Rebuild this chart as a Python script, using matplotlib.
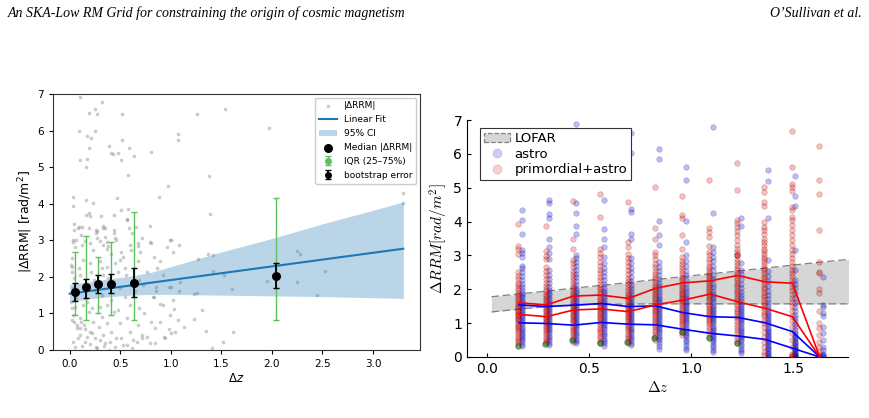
import matplotlib
matplotlib.use("Agg")
import matplotlib.pyplot as plt
from matplotlib.patches import Patch
from matplotlib.lines import Line2D
import numpy as np

# ---------------- Left panel data ----------------
scat_x = [0.10,0.19,0.25,0.27,0.32,0.09,0.25,0.17,0.21,0.19,0.17,0.10,0.16,0.39,0.41,0.43,0.48,0.52,0.52,0.51,
          0.59,0.64,0.58,0.80,0.97,1.07,1.07,1.26,1.54,1.97,1.38,1.39,3.30,3.30,
          0.03,0.03,0.04,0.16,0.23,0.16,0.19,0.20,0.09,0.12,0.11,0.06,0.03,0.15,0.31,0.33,0.35,0.27,0.26,0.30,
          0.37,0.38,0.47,0.44,0.51,0.58,0.57,0.57,0.62,0.68,0.68,0.45,0.44,0.88,0.79,0.80,1.00,1.08,1.37,1.42,
          1.42,1.27,1.53,1.09,1.00,0.85,0.85,1.61,1.95,2.25,2.28,2.25,2.53,2.45,1.26,1.23,
          1.03,1.31,1.23,1.13,0.93,0.98,1.00,0.84,1.35,1.62,1.52,1.41,0.89,0.80,0.76,0.72,0.82,
          0.04,0.08,0.19,0.26,0.33,0.44,0.59,0.66,0.27,0.35,0.46,0.72,0.79,0.99,
          0.03,0.02,0.05,0.12,0.20,0.23,0.33,0.37,0.41,0.51,0.53,0.60,0.61,0.70,0.83,0.89,0.96,1.02,
          0.01,0.02,0.04,0.09,0.10,0.13,0.20,0.21,0.24,0.30,0.32,0.33,0.37,0.38,0.45,0.48,0.50,0.55,0.56,
          0.68,0.69,0.73,0.76,0.86,0.92,0.98,1.08,0.03,0.06,0.14,0.17,0.25,0.32,0.41,0.50,0.55,0.65,0.83,0.92,1.02,
          0.02,0.03,0.04,0.07,0.10,0.10,0.14,0.15,0.19,0.20,0.23,0.25,0.26,0.29,0.32,0.33,0.35,0.37,0.39,0.41,
          0.44,0.46,0.50,0.53,0.57,0.60,0.63,0.68,0.72,0.74,0.79,0.84,0.89,0.94,0.99,1.04,1.07,
          0.01,0.05,0.13,0.22,0.30,0.37,0.48,0.60,0.69,
          0.03,0.05,0.08,0.12,0.17,0.20,0.22,0.27,0.30,0.34,0.40,0.45,0.51,0.57,0.62,0.67,
          0.02,0.07,0.11,0.10,0.15,0.02]
scat_y = [6.91,6.47,6.60,6.46,6.77,6.00,6.00,5.85,5.80,5.52,5.23,5.19,5.00,5.58,5.38,5.37,5.40,6.45,5.74,5.19,
          5.52,5.31,4.79,5.42,4.48,5.90,5.74,6.44,6.58,6.08,4.77,3.73,4.28,4.03,
          4.17,3.93,3.45,4.10,4.01,3.68,3.74,3.67,3.36,3.35,3.14,3.00,2.94,2.97,3.67,3.40,3.34,3.25,3.19,2.98,
          2.94,2.85,4.16,3.70,3.82,3.86,3.57,3.56,3.19,2.92,2.85,3.06,3.19,4.17,3.38,2.92,3.02,2.88,2.63,2.61,
          2.16,2.48,2.05,1.86,1.71,1.73,1.60,1.68,1.88,2.71,2.63,1.85,2.16,1.50,1.57,1.54,
          1.13,1.09,0.84,0.63,0.35,0.58,0.46,0.18,0.53,0.50,0.21,0.05,1.25,0.77,0.36,0.32,1.44,
          3.28,3.34,3.33,3.28,3.34,3.28,3.33,3.37,3.05,3.10,3.01,3.05,2.96,3.01,
          3.01,2.51,2.82,2.87,2.92,2.73,2.87,2.76,2.62,2.69,2.55,2.87,2.73,2.69,2.55,2.43,2.82,2.69,
          2.32,2.14,1.96,2.23,2.05,2.46,2.37,2.14,1.91,2.42,2.23,2.05,2.28,1.96,2.37,2.14,2.46,2.23,2.05,
          2.42,1.91,1.78,2.14,2.23,2.05,1.73,1.60,1.69,1.41,1.60,1.32,1.64,1.50,1.37,1.69,1.46,1.60,1.46,1.23,1.37,
          1.14,0.96,0.77,0.59,0.87,0.41,0.68,0.23,1.05,0.50,0.77,0.32,0.09,0.64,0.91,0.41,0.18,0.73,0.00,0.50,
          1.05,0.32,0.73,0.14,0.87,0.50,0.27,0.68,0.41,1.00,0.18,0.59,0.77,0.32,0.96,0.50,0.82,
          1.32,1.18,1.23,1.14,1.18,1.23,1.09,1.23,1.14,
          0.23,0.09,0.32,0.12,0.36,0.16,0.46,0.05,0.27,0.11,0.23,0.09,0.32,0.14,0.05,0.23,
          0.82,0.68,0.77,0.59,0.57,2.26]

bin_z = [0.056, 0.157, 0.282, 0.410, 0.633, 2.040]
bin_median = [1.59, 1.71, 1.80, 1.80, 1.84, 2.03]
boot_lo = [1.34, 1.43, 1.55, 1.55, 1.44, 1.70]
boot_hi = [1.84, 1.93, 2.05, 2.07, 2.23, 2.39]
iqr_lo = [0.95, 0.82, 1.02, 0.95, 0.83, 0.83]
iqr_hi = [2.68, 3.12, 2.53, 2.94, 3.76, 4.15]

fit_x = [0.0, 3.3]
fit_y = [1.54, 2.77]
ci_x = [0.0, 0.2, 0.4, 0.6, 0.8, 1.0, 1.5, 2.0, 2.5, 3.0, 3.3]
ci_hi = [1.80, 1.87, 1.95, 2.02, 2.12, 2.28, 2.68, 3.05, 3.45, 3.82, 4.05]
ci_lo = [1.32, 1.40, 1.46, 1.50, 1.52, 1.52, 1.50, 1.48, 1.46, 1.43, 1.41]

# ---------------- Right panel data ----------------
col_z = [0.155, 0.29, 0.423, 0.558, 0.692, 0.826, 0.96, 1.094, 1.229, 1.363, 1.497, 1.631]

astro_cols = [
    [0.33,0.39,0.46,0.53,0.6,0.66,0.72,0.78,0.84,0.9,0.96,1.02,1.08,1.14,1.2,1.26,1.32,1.38,1.44,1.5,1.56,1.62,1.69,1.76,1.83,1.9,1.98,2.07,2.16,2.26,2.38,2.5,2.62,2.69,2.96,3.06,3.16,3.62,4.06,4.35],
    [0.35,0.42,0.49,0.56,0.63,0.7,0.76,0.82,0.88,0.94,1.0,1.06,1.12,1.18,1.24,1.3,1.36,1.42,1.48,1.54,1.6,1.67,1.74,1.82,1.9,1.98,2.08,2.18,2.3,2.42,2.57,2.88,3.06,3.26,3.49,4.12,4.21,4.56,4.64],
    [0.4,0.47,0.54,0.61,0.68,0.75,0.82,0.88,0.94,1.0,1.06,1.12,1.18,1.24,1.3,1.36,1.42,1.48,1.54,1.6,1.66,1.73,1.8,1.88,1.96,2.05,2.14,2.24,2.35,2.46,2.58,2.7,2.82,2.92,3.01,3.63,3.87,4.24,4.54,6.88],
    [0.33,0.4,0.47,0.54,0.61,0.68,0.75,0.82,0.88,0.94,1.0,1.06,1.12,1.18,1.24,1.3,1.36,1.42,1.48,1.54,1.6,1.66,1.73,1.8,1.88,1.96,2.05,2.15,2.26,2.38,2.5,2.63,2.78,2.96,3.26,3.5,3.79,4.64],
    [0.35,0.42,0.49,0.56,0.63,0.7,0.77,0.84,0.9,0.96,1.02,1.08,1.14,1.2,1.26,1.32,1.38,1.44,1.5,1.56,1.63,1.7,1.78,1.86,1.95,2.04,2.14,2.25,2.37,2.5,2.63,2.78,2.92,3.48,3.62,4.28,4.36,6.03,6.63],
    [0.25,0.33,0.41,0.49,0.56,0.63,0.7,0.77,0.83,0.89,0.95,1.01,1.07,1.13,1.19,1.25,1.31,1.37,1.43,1.49,1.55,1.61,1.68,1.75,1.83,1.91,2.0,2.1,2.2,2.31,2.43,2.55,2.67,2.8,3.3,3.6,4.02,5.84,6.13],
    [0.2,0.28,0.36,0.44,0.51,0.58,0.65,0.72,0.78,0.84,0.9,0.96,1.02,1.08,1.14,1.2,1.26,1.32,1.38,1.44,1.5,1.56,1.63,1.7,1.78,1.86,1.95,2.05,2.16,2.28,2.41,2.55,2.7,2.85,3.01,3.4,4.03,5.23,5.62],
    [0.15,0.22,0.29,0.36,0.43,0.5,0.57,0.63,0.69,0.75,0.81,0.87,0.93,0.99,1.05,1.11,1.17,1.23,1.29,1.35,1.41,1.48,1.55,1.62,1.7,1.78,1.87,1.96,2.06,2.17,2.29,2.42,2.56,2.7,2.85,2.95,3.11,3.26,4.26,6.8],
    [0.11,0.18,0.25,0.32,0.39,0.46,0.53,0.6,0.66,0.72,0.78,0.84,0.9,0.96,1.02,1.08,1.14,1.2,1.26,1.32,1.38,1.44,1.51,1.58,1.66,1.74,1.83,1.93,2.04,2.16,2.3,2.44,2.57,2.77,3.87,4.12],
    [0.0,0.04,0.08,0.13,0.18,0.23,0.28,0.33,0.38,0.43,0.48,0.53,0.58,0.63,0.68,0.73,0.78,0.84,0.9,0.96,1.02,1.08,1.14,1.2,1.27,1.34,1.42,1.5,1.6,1.7,1.82,1.95,2.1,2.25,2.4,2.55,2.86,4.12,5.2,5.52],
    [0.0,0.02,0.04,0.07,0.1,0.13,0.16,0.2,0.24,0.28,0.32,0.36,0.4,0.45,0.5,0.55,0.6,0.66,0.72,0.8,0.88,0.96,1.05,1.15,1.25,1.36,1.48,1.6,1.75,1.9,2.05,2.15,2.27,2.57,3.16,4.46,4.75,5.34],
    [0.0,0.02,0.05,0.1,0.2,0.3,0.5,0.7,0.9,1.2,1.3,1.48,1.55,2.35],
]

prim_cols = [
    [0.38,0.44,0.5,0.57,0.63,0.7,0.76,0.82,0.88,0.93,0.98,1.03,1.08,1.12,1.16,1.2,1.24,1.28,1.32,1.36,1.4,1.45,1.5,1.55,1.6,1.66,1.72,1.78,1.84,1.9,1.97,2.04,2.12,2.2,2.3,2.4,2.52,3.05,3.2,3.27,3.92],
    [0.4,0.47,0.54,0.6,0.67,0.73,0.8,0.86,0.92,0.97,1.02,1.07,1.12,1.16,1.2,1.25,1.3,1.35,1.4,1.45,1.5,1.56,1.62,1.68,1.74,1.8,1.87,1.94,2.02,2.1,2.2,2.3,2.42,2.55,2.65,2.9,2.97,3.14,3.87],
    [0.45,0.52,0.6,0.67,0.74,0.8,0.87,0.93,0.99,1.05,1.1,1.15,1.2,1.25,1.3,1.35,1.4,1.45,1.5,1.55,1.6,1.66,1.72,1.78,1.84,1.9,1.96,2.03,2.1,2.18,2.26,2.35,2.45,2.55,2.66,2.78,2.86,3.2,3.5,4.62],
    [0.4,0.48,0.56,0.63,0.7,0.77,0.84,0.9,0.96,1.02,1.08,1.14,1.19,1.24,1.29,1.34,1.39,1.44,1.49,1.54,1.6,1.66,1.72,1.78,1.85,1.92,2.0,2.08,2.17,2.26,2.36,2.47,2.58,2.7,2.82,2.95,3.08,3.2,4.14,4.81],
    [0.4,0.48,0.55,0.62,0.69,0.76,0.83,0.89,0.95,1.01,1.07,1.12,1.17,1.22,1.27,1.32,1.37,1.42,1.47,1.52,1.58,1.64,1.7,1.76,1.83,1.9,1.98,2.06,2.15,2.24,2.34,2.45,2.56,2.68,2.8,2.93,3.05,3.26,3.41,4.58],
    [0.5,0.58,0.66,0.74,0.81,0.88,0.95,1.01,1.07,1.13,1.19,1.25,1.3,1.35,1.4,1.45,1.5,1.55,1.6,1.65,1.7,1.76,1.82,1.88,1.94,2.0,2.07,2.14,2.21,2.29,2.37,2.46,2.55,2.65,2.76,2.88,3.0,3.1,3.5,3.82,5.03],
    [0.65,0.73,0.8,0.87,0.94,1.0,1.06,1.12,1.18,1.24,1.3,1.36,1.42,1.48,1.54,1.6,1.65,1.7,1.75,1.8,1.85,1.9,1.96,2.02,2.08,2.14,2.2,2.26,2.33,2.4,2.48,2.56,2.65,2.75,2.85,2.96,3.18,3.6,4.1,4.19,4.75],
    [0.6,0.7,0.8,0.88,0.96,1.03,1.1,1.16,1.22,1.28,1.34,1.4,1.46,1.52,1.58,1.64,1.7,1.76,1.82,1.88,1.94,2.0,2.06,2.12,2.18,2.24,2.3,2.36,2.42,2.48,2.55,2.62,2.7,2.8,2.9,3.0,3.1,3.29,3.55,3.7,3.8,5.23],
    [0.4,0.5,0.6,0.7,0.8,0.9,0.98,1.06,1.14,1.22,1.29,1.36,1.43,1.5,1.57,1.64,1.71,1.78,1.85,1.92,1.99,2.06,2.13,2.2,2.27,2.34,2.41,2.48,2.56,2.64,2.72,2.8,2.9,3.0,3.01,3.02,3.1,3.2,3.32,3.45,3.6,3.72,3.83,3.95,4.06,4.93,5.74],
    [0.05,0.15,0.3,0.45,0.6,0.75,0.88,1.0,1.1,1.2,1.28,1.36,1.44,1.52,1.6,1.68,1.76,1.84,1.92,2.0,2.08,2.16,2.24,2.32,2.4,2.48,2.56,2.64,2.72,2.8,2.88,2.96,3.04,3.12,3.2,3.3,3.4,3.5,3.62,3.75,3.85,4.0,4.46,4.59,4.88,5.03],
    [0.0,0.02,0.05,0.1,0.3,0.5,0.7,0.9,1.05,1.2,1.35,1.5,1.62,1.74,1.86,1.98,2.08,2.18,2.28,2.38,2.48,2.58,2.68,2.8,2.92,3.04,3.16,3.3,3.45,3.6,3.75,3.9,4.05,4.14,4.34,4.44,4.91,5.03,5.11,5.62,6.67],
    [0.0,0.02,0.05,0.15,0.3,0.45,0.65,0.85,1.0,1.37,1.88,2.0,2.48,2.52,2.81,3.75,4.82,5.23,6.24],
]

green_z = [0.155, 0.29, 0.423, 0.558, 0.692, 0.826, 0.96, 1.094, 1.229]
green_vals = [0.33, 0.38, 0.50, 0.42, 0.43, 0.55, 0.75, 0.55, 0.42]

astro_hi = [1.54, 1.49, 1.53, 1.58, 1.49, 1.51, 1.31, 1.19, 1.17, 1.01, 0.75, 0.0]
astro_lo = [1.01, 0.99, 0.94, 1.02, 0.97, 0.95, 0.82, 0.70, 0.62, 0.52, 0.26, 0.0]
prim_hi = [1.60, 1.54, 1.80, 1.83, 1.73, 2.03, 2.19, 2.25, 2.41, 2.22, 2.18, 0.0]
prim_lo = [1.26, 1.19, 1.39, 1.42, 1.34, 1.54, 1.68, 1.86, 1.63, 1.44, 1.19, 0.0]

lofar_x = [0.02, 0.1, 0.2, 0.3, 0.4, 0.5, 0.6, 0.8, 1.0, 1.2, 1.4, 1.6, 1.8]
lofar_lo = [1.33, 1.38, 1.44, 1.49, 1.53, 1.55, 1.56, 1.57, 1.57, 1.57, 1.57, 1.57, 1.57]
lofar_hi = [1.78, 1.83, 1.89, 1.95, 2.02, 2.08, 2.14, 2.27, 2.40, 2.52, 2.65, 2.78, 2.90]

# ---------------- Figure ----------------
fig = plt.figure(figsize=(8.69, 4.18), dpi=100)

fig.text(0.009, 0.968, "An SKA-Low RM Grid for constraining the origin of cosmic magnetism",
         family="Liberation Serif", style="italic", fontsize=10, va="center", ha="left")
fig.text(0.992, 0.968, "O\u2019Sullivan et al.", family="Liberation Serif", style="italic",
         fontsize=10, va="center", ha="right")

# Left panel
ax1 = fig.add_axes([53/869, 1-350/418, (420-53)/869, (350-94)/418])
h_sc = ax1.scatter(scat_x, scat_y, s=7, color="gray", alpha=0.4, linewidths=0, zorder=1)
h_ci = ax1.fill_between(ci_x, ci_lo, ci_hi, color="tab:blue", alpha=0.3, linewidth=0, zorder=2)
h_fit, = ax1.plot(fit_x, fit_y, color="tab:blue", lw=1.5, zorder=3)
iqr_err = [np.array(bin_median) - np.array(iqr_lo), np.array(iqr_hi) - np.array(bin_median)]
boot_err = [np.array(bin_median) - np.array(boot_lo), np.array(boot_hi) - np.array(bin_median)]
h_iqr = ax1.errorbar(bin_z, bin_median, yerr=iqr_err, fmt="o", color="#5cc15c", ms=4,
                     elinewidth=1.0, capsize=2, zorder=4)
h_boot = ax1.errorbar(bin_z, bin_median, yerr=boot_err, fmt="o", color="black", ms=4,
                      elinewidth=1.3, capsize=2.5, zorder=5)
h_med = ax1.scatter(bin_z, bin_median, s=30, color="black", zorder=6)
ax1.set_ylim(0, 7)
ax1.set_xlim(-0.165, 3.465)
ax1.set_xticks([0.0, 0.5, 1.0, 1.5, 2.0, 2.5, 3.0])
ax1.tick_params(labelsize=7.5, length=3, width=0.8)
for s in ax1.spines.values():
    s.set_color("#333333")
ax1.set_xlabel(r"$\Delta z$", fontsize=8.5, labelpad=2)
ax1.set_ylabel(r"|$\Delta$RRM| [rad/m$^2$]", fontsize=9, labelpad=2)
ax1.legend([h_sc, h_fit, h_ci, h_med, h_iqr, h_boot],
           ["|\u0394RRM|", "Linear Fit", "95% CI", "Median |\u0394RRM|", "IQR (25\u201375%)", "bootstrap error"],
           loc="upper right", fontsize=6.5, framealpha=1, borderaxespad=0.4, labelspacing=0.55,
           handlelength=2.0)

# Right panel
ax2 = fig.add_axes([467/869, 1-357/418, (848-467)/869, (357-120)/418])
ax2.fill_between(lofar_x, lofar_lo, lofar_hi, color="#d6d6d6", linewidth=0, zorder=1)
ax2.plot(lofar_x, lofar_lo, color="gray", lw=0.9, ls=(0, (6, 3)), zorder=1.5)
ax2.plot(lofar_x, lofar_hi, color="gray", lw=0.9, ls=(0, (6, 3)), zorder=1.5)
for z, vals in zip(col_z, astro_cols):
    ax2.scatter([z + 0.014] * len(vals), vals, s=16, color="blue", alpha=0.27,
                edgecolors="black", linewidths=0.4, zorder=2)
for z, vals in zip(col_z, prim_cols):
    ax2.scatter([z - 0.004] * len(vals), vals, s=16, color="red", alpha=0.27,
                edgecolors="black", linewidths=0.4, zorder=3)
ax2.scatter([z - 0.006 for z in green_z], green_vals, s=16, color="green", alpha=0.55,
            edgecolors="black", linewidths=0.4, zorder=3.5)
ax2.plot(col_z, astro_hi, color="blue", lw=1.2, zorder=4)
ax2.plot(col_z, astro_lo, color="blue", lw=1.2, zorder=4)
ax2.plot(col_z, prim_hi, color="red", lw=1.2, zorder=4)
ax2.plot(col_z, prim_lo, color="red", lw=1.2, zorder=4)
ax2.set_xlim(-0.1, 1.77)
ax2.set_ylim(0, 7)
ax2.set_xticks([0.0, 0.5, 1.0, 1.5])
ax2.set_yticks(range(8))
ax2.spines["top"].set_visible(False)
ax2.spines["right"].set_visible(False)
ax2.tick_params(direction="in", labelsize=10, length=3, width=0.8)
ax2.set_xlabel(r"$\Delta z$", fontsize=11, math_fontfamily="cm", labelpad=3)
ax2.set_ylabel(r"$\Delta RRM[rad/m^2]$", fontsize=11, math_fontfamily="cm", labelpad=2)
leg_handles = [Patch(facecolor="#d6d6d6", edgecolor="gray", linestyle="--", linewidth=0.9),
               Line2D([], [], ls="none", marker="o", ms=6.5, color="blue", alpha=0.2, mec="black", mew=0.4),
               Line2D([], [], ls="none", marker="o", ms=6.5, color="red", alpha=0.2, mec="black", mew=0.4)]
leg2 = ax2.legend(leg_handles, ["LOFAR", "astro", "primordial+astro"], loc="upper left",
                  bbox_to_anchor=(0.034, 0.966), borderaxespad=0, fontsize=9.5, fancybox=False,
                  framealpha=1, edgecolor="#333333", labelspacing=0.2, handlelength=2.0,
                  handletextpad=0.3, borderpad=0.3)
leg2.get_frame().set_linewidth(0.8)

fig.savefig("out.png", dpi=100)
